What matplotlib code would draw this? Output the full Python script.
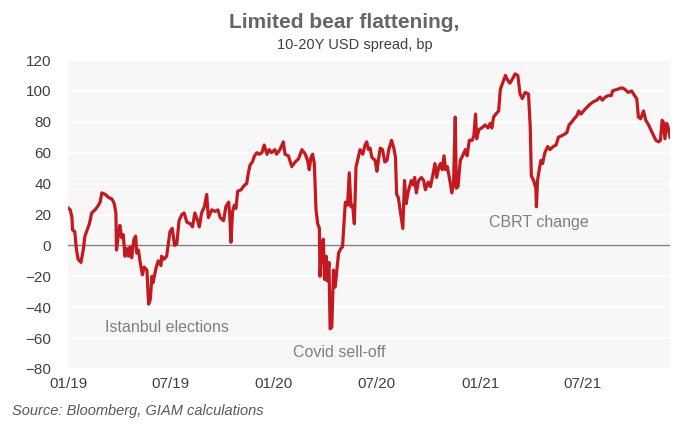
import matplotlib
matplotlib.use("Agg")
import matplotlib.pyplot as plt
import pandas as pd

plt.rcParams["font.family"] = ["Liberation Sans", "DejaVu Sans"]

START = pd.Timestamp("2019-01-01")

# days since 1 Jan 2019
day_num = [
    1, 4, 7, 8, 12, 15, 18, 23, 27, 30, 34, 38, 42, 48, 54, 57, 60, 66, 72, 78,
    82, 85, 86, 89, 92, 95, 98, 101, 104, 107, 110, 113, 117, 120, 122, 125, 128,
    132, 135, 140, 143, 146, 149, 151, 156, 160, 165, 166, 170, 175, 181, 185,
    189, 193, 197, 202, 206, 211, 217, 221, 225, 230, 233, 237, 242, 246, 249,
    255, 261, 266, 270, 276, 280, 285, 287, 289, 292, 295, 298, 301, 307, 313,
    317, 320, 323, 327, 331, 335, 339, 344, 348, 353, 357, 361, 367,
    370, 376, 382, 385, 391, 397, 403, 409, 415, 421, 425, 428, 431, 434, 437,
    440, 443, 446, 447, 450, 453, 455, 458, 460, 463, 465, 468, 471, 474, 477,
    480, 484, 487, 492, 496, 499, 502, 505, 508, 511, 515, 518, 523, 527, 530,
    533, 536, 539, 545,
    548, 551, 554, 558, 562, 566, 569, 574, 578, 581, 583, 586, 590, 594, 597,
    600, 603, 606, 609, 613, 615, 618, 622, 627, 631, 634, 639, 643, 647, 651,
    654, 658, 661, 664, 667, 670, 673, 677, 681, 684, 687, 689, 692, 694, 696,
    700, 705, 708, 712, 717, 720, 723, 725, 729, 734, 740, 745, 749, 752, 755,
    759, 764, 767, 771, 776, 780, 784, 789, 793, 798, 802, 806, 811, 817, 820,
    822, 826, 830, 831, 833, 836, 839, 842, 846, 851, 855, 861, 866, 870, 876,
    881, 885, 889, 894, 898, 903, 906, 910, 917, 925, 932, 938, 944, 948, 953,
    959, 964, 966, 974, 983, 988, 994, 1000, 1005, 1009, 1012, 1016, 1021, 1025,
    1030, 1035, 1039, 1043, 1048, 1051, 1054, 1056, 1059, 1062, 1065, 1068,
]

# 10-20Y USD spread, bp
spread_bp = [
    24, 23, 18, 10, 9, -3, -9, -11, -3, 6, 10, 14, 21, 23, 26, 28, 34, 33, 31, 30,
    27, 21, -3, 6, 13, 5, 7, -7, -2, -7, -1, -8, 4, 6, -5, -3, -11,
    -19, -14, -16, -38, -35, -20, -24, -15, -10, -13, -7, -9, -7, 9, 11,
    0, 1, 16, 20, 21, 15, 14, 12, 21, 16, 12, 21, 25, 33, 18,
    23, 22, 23, 18, 16, 25, 28, 19, 2, 22, 26, 24, 35, 36, 39,
    40, 47, 52, 54, 58, 60, 59, 60, 65, 59, 62, 60, 62,
    59, 62, 67, 59, 58, 51, 54, 56, 62, 59, 55, 49, 57, 59, 53,
    23, 14, 11, -20, -1, 4, -22, -7, -23, -11, -54, -53, -16, -27, -16,
    -5, -2, -1, 28, 26, 47, 25, 26, 14, 51, 57, 62, 59, 65, 67,
    62, 63, 57, 55,
    48, 56, 63, 62, 54, 55, 62, 68, 63, 57, 33, 31, 21, 11, 42,
    27, 34, 38, 42, 39, 44, 34, 42, 44, 42, 36, 41, 38, 45, 53,
    44, 51, 53, 49, 58, 49, 51, 43, 34, 40, 83, 37, 38, 47, 55,
    58, 62, 58, 68, 68, 71, 85, 69, 75, 76, 78, 76, 79, 76, 83,
    85, 87, 101, 105, 110, 107, 105, 108, 111, 110, 98, 95, 99, 98, 77,
    45, 42, 37, 25, 42, 49, 55, 53, 60, 64, 62, 64, 65, 70, 71,
    72, 73, 78, 80, 82, 84, 87, 85, 88, 91, 93, 94, 96, 94, 96,
    97, 97, 100, 101, 102, 101, 99, 100, 97, 95, 83, 82, 87, 81,
    78, 74, 71, 68, 67, 68, 81, 80, 69, 79, 76, 70,
]

tick_labels = ["01/19", "07/19", "01/20", "07/20", "01/21", "07/21"]
tick_dates = pd.to_datetime(["2019-01-01", "2019-07-01", "2020-01-01",
                             "2020-07-01", "2021-01-01", "2021-07-01"])

events = ["Istanbul elections", "Covid sell-off", "CBRT change"]
event_day = [66, 399, 747]
event_bp = [-53, -69, 15]

dates = START + pd.to_timedelta(day_num, unit="D")

fig = plt.figure(figsize=(6.78, 4.25), dpi=100)
ax = fig.add_axes([68 / 678, 1 - 369 / 425, (670 - 68) / 678, (369 - 60) / 425])
ax.set_facecolor("#f7f7f7")
for s in ax.spines.values():
    s.set_visible(False)

ax.set_ylim(-80, 120)
ax.set_yticks(range(-80, 121, 20))
ax.grid(axis="y", color="white", lw=1.2)
ax.set_axisbelow(True)
ax.axhline(0, color="#808080", lw=1, zorder=1)

ax.plot(dates, spread_bp, color="#c41a1f", lw=2.3, zorder=3)

ax.set_xlim(START, dates[-1])
ax.set_xticks(tick_dates)
ax.set_xticklabels(tick_labels)
ax.tick_params(axis="both", length=0, labelsize=11, labelcolor="#404040")
ax.tick_params(axis="y", pad=12)
ax.tick_params(axis="x", pad=6)

for txt, d, v in zip(events, event_day, event_bp):
    ax.text(START + pd.Timedelta(days=d), v, txt, fontsize=11.5,
            color="#7f7f7f", va="center", ha="left")

fig.text(344 / 678, 1 - 23 / 425, "Limited bear flattening,", ha="center",
         va="center", fontsize=15, fontweight="bold", color="#666666")
fig.text(355 / 678, 1 - 45 / 425, "10-20Y USD spread, bp", ha="center",
         va="center", fontsize=10.5, color="#404040")
fig.text(12 / 678, 1 - 411 / 425, "Source: Bloomberg, GIAM calculations",
         ha="left", va="center", fontsize=10.5, style="italic", color="#595959")

fig.savefig("out.png", dpi=100)
